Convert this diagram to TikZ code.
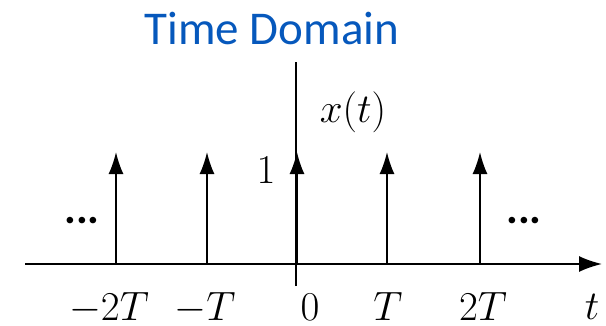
\RequirePackage{fix-cm}
\documentclass[tikz,border=0pt]{standalone}
\usepackage{fontspec}
\newfontfamily\titlefont{Carlito}
\usetikzlibrary{arrows.meta}
\definecolor{titleblue}{RGB}{6,88,188}
\tikzset{
  ax/.style={line width=1.7pt},
  imp/.style={line width=1.7pt,-{Latex[length=22pt,width=15pt]}},
  axarrow/.style={line width=1.7pt,-{Latex[length=23pt,width=16pt]}},
  mlab/.style={inner sep=0pt,anchor=base,font=\fontsize{41}{48}\selectfont},
  dots/.style={inner sep=0pt,anchor=base,font=\titlefont\bfseries\fontsize{44}{52}\selectfont},
}
\begin{document}
\begin{tikzpicture}[x=1pt,y=1pt]
\useasboundingbox (0,0) rectangle (606,325);
% title
\node[inner sep=0pt,anchor=base,text=titleblue,font=\titlefont\fontsize{47}{56}\selectfont] (title) at (272,280) {Time Domain};
% axes
\coordinate (xl) at (25,61);
\coordinate (xr) at (602,61);
\coordinate (yt) at (296,263);
\coordinate (yb) at (296,39);
\draw[axarrow] (xl) -- (xr);
\draw[ax] (yb) -- (yt);
% impulses
\foreach \n/\x in {m2/116,m1/207,z/297,p1/387,p2/480}{
  \coordinate (b\n) at (\x,61);
  \coordinate (t\n) at (\x,173);
  \draw[imp] (b\n) -- (t\n);
}
% labels
\node[mlab] (lm2) at (109,4.5) {$-2T$};
\node[mlab] (lm1) at (205,4.5) {$-T$};
\node[mlab] (lz) at (310,4.5) {$0$};
\node[mlab] (lp1) at (388,4.5) {$T$};
\node[mlab] (lp2) at (483,4.5) {$2T$};
\node[mlab] (lt) at (592,6) {$t$};
\node[mlab] (lx) at (353,203) {$x(t)$};
\node[mlab] (lone) at (266,142) {$1$};
% dots
\node[dots] (dl) at (82,102) {...};
\node[dots] (dr) at (524,102) {...};
\end{tikzpicture}
\end{document}
